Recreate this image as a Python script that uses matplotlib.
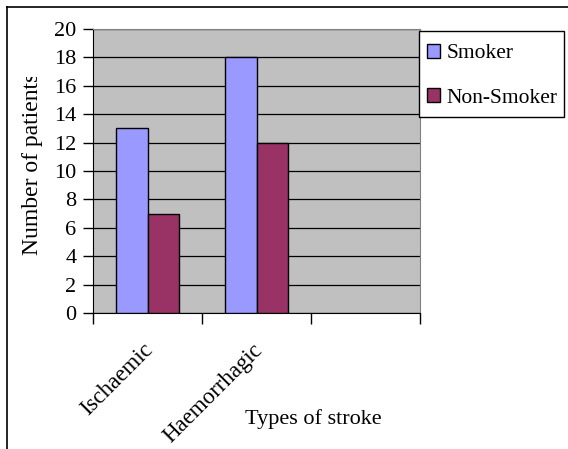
import numpy as np
import matplotlib
matplotlib.use('Agg')
import matplotlib.pyplot as plt
from matplotlib.lines import Line2D
from matplotlib.patches import Rectangle
from matplotlib.transforms import Bbox, ScaledTranslation

plt.rcParams['font.family'] = ['Liberation Serif', 'DejaVu Serif']
plt.rcParams['font.size'] = 16

# datos
tipos = ['Ischaemic', 'Haemorrhagic', '']
fumador = [13, 18]
no_fumador = [7, 12]
series = ['Smoker', 'Non-Smoker']
colores = ['#9999FF', '#993366']

W, H = 568, 449
fig = plt.figure(figsize=(W / 100, H / 100), dpi=100)
ax = fig.add_axes([93 / W, 1 - 313 / H, 327 / W, 284 / H])
ax.set_facecolor('#C0C0C0')

x = np.arange(len(fumador))
ancho = 0.29
ax.bar(x - ancho / 2, fumador, ancho, color=colores[0], edgecolor='black', linewidth=1, zorder=3)
ax.bar(x + ancho / 2, no_fumador, ancho, color=colores[1], edgecolor='black', linewidth=1, zorder=3)

ax.set_xlim(-0.5, len(tipos) - 0.5)
ax.set_ylim(0, 20)
ax.set_yticks(np.arange(0, 21, 2))
ax.yaxis.grid(True, color='black', linewidth=0.9, zorder=1)
ax.set_axisbelow(True)

# marcas entre categorias, etiquetas en el centro
ax.set_xticks(np.arange(len(tipos)))
ax.set_xticklabels(tipos, rotation=45, ha='right', va='top', rotation_mode='anchor', fontsize=16.5)
ax.set_xticks(np.arange(len(tipos) + 1) - 0.5, minor=True)
ax.tick_params(axis='x', which='major', length=0, pad=19)
ax.tick_params(axis='x', which='minor', length=8, width=1, direction='out')
ax.tick_params(axis='y', length=7, width=1, direction='out', pad=5)
desplaza = ScaledTranslation(-5 / 100, 0, fig.dpi_scale_trans)
for t in ax.get_xticklabels():
    t.set_transform(t.get_transform() + desplaza)

for lado in ['top', 'right']:
    ax.spines[lado].set_color('#808080')
for lado in ['left', 'bottom']:
    ax.spines[lado].set_color('black')

# titulo del eje y, recortado arriba
yl = fig.text(33 / W, 1 - 164 / H, 'Number of patients', rotation=90, ha='center', va='center', fontsize=17)
yl.set_clip_box(Bbox([[0, 0], [W, H - 77]]))
yl.set_clip_on(True)

fig.text(313 / W, 1 - 419 / H, 'Types of stroke', ha='center', va='center', fontsize=16)

# leyenda con marco propio
fig.add_artist(Rectangle((419 / W, 1 - 117 / H), 145 / W, 86 / H, transform=fig.transFigure,
                         facecolor='white', edgecolor='black', linewidth=1, zorder=4))
handles = [Rectangle((0, 0), 1, 1, facecolor=c, edgecolor='black', linewidth=1) for c in colores]
leg = fig.legend(handles, series, loc='upper left', bbox_to_anchor=(427 / W, 1 - 44 / H),
                 borderaxespad=0, borderpad=0, frameon=False,
                 handlelength=0.6, handleheight=0.6, handletextpad=0.3,
                 labelspacing=1.15, fontsize=15.5)
leg.set_zorder(5)

# borde exterior
fig.add_artist(Line2D([7 / W, 7 / W], [0, 1 - 7 / H], color='black', linewidth=1.2))
fig.add_artist(Line2D([7 / W, 1], [1 - 7 / H, 1 - 7 / H], color='black', linewidth=1.2))

fig.savefig('out.png', dpi=100)
